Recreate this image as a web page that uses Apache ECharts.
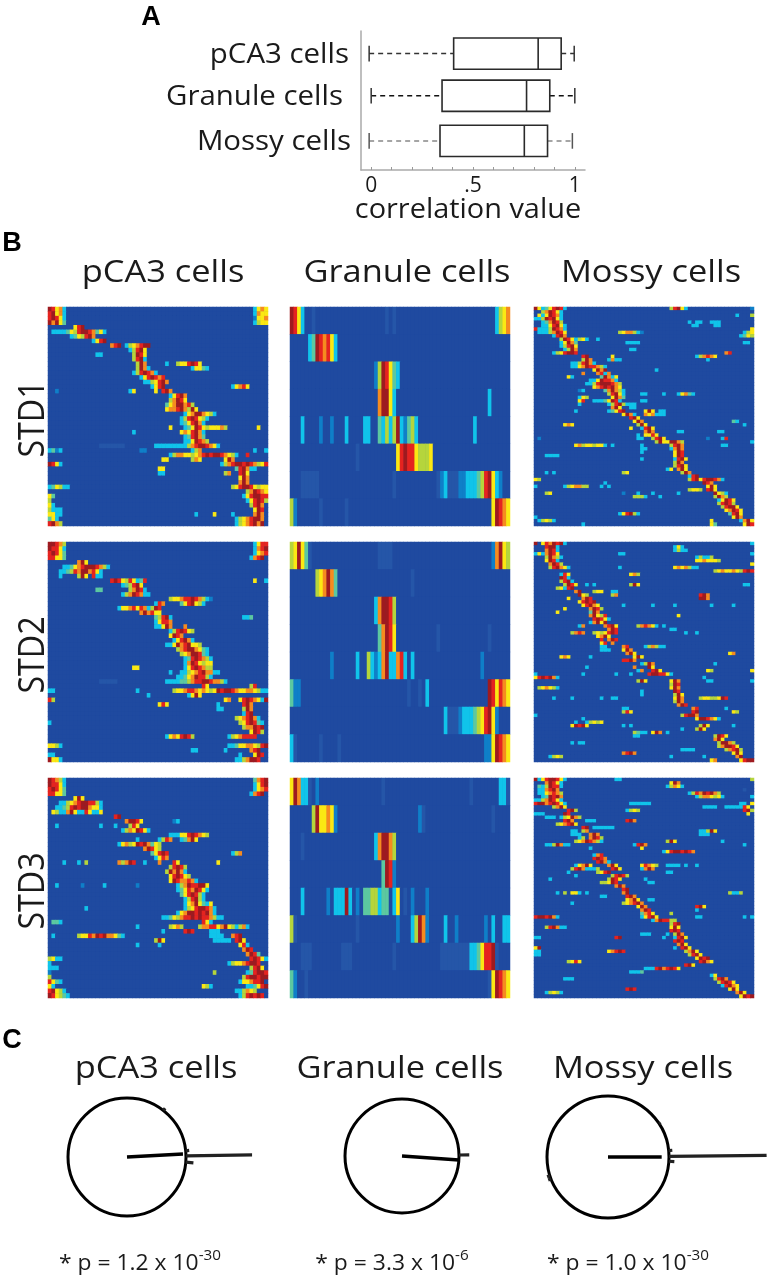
<!DOCTYPE html>
<html><head><meta charset="utf-8">
<style>html,body{margin:0;padding:0;background:#fff}#c{width:770px;height:1277px;filter:blur(0.7px)}</style>
<script src="https://cdn.jsdelivr.net/npm/echarts@6/dist/echarts.min.js"></script>
</head><body><div id="c"></div>
<script>
// ---------- Panel A: correlation box plots ----------
const cellTypes = ['pCA3 cells', 'Granule cells', 'Mossy cells'];
const boxRowPos = [0.52, 1.49, 2.53];
const boxLow = [-0.01, 0.0, -0.01];
const boxQ1 = [0.405, 0.348, 0.338];
const boxMedian = [0.82, 0.763, 0.752];
const boxQ3 = [0.933, 0.877, 0.866];
const boxHigh = [0.997, 1.0, 0.988];
const xTickValues = [0, 0.1, 0.2, 0.3, 0.4, 0.5, 0.6, 0.7, 0.8, 0.9, 1];
const xLabelValues = [0, 0.5, 1];
const xLabelTexts = ['0', '.5', '1'];
const stdLabels = ['STD1', 'STD2', 'STD3'];

// ---------- Panel B: heat maps. Each entry = row:column:cell levels (0-9) ----------
const pca3Std1 = ["0:0:98673","0:56:3676","1:0:89673","1:56:3766","2:0:89863","2:56:2667","3:0:97964","3:56:3566","4:7:689","5:1:333346589987463","6:6:3465897","7:12:3689","8:17:789","8:21:3567899","9:22:35896","10:13:33","10:23:5986","11:23:5893","12:24:597","12:32:3","12:35:5668986","13:24:5973","13:39:36643","14:23:3589873","15:25:3689878","16:26:3356897","17:28:3689","17:50:36786","18:2:2","18:22:36","18:29:6","18:31:897","19:33:36897","20:33:57986","21:32:46799785","22:32:677897596","23:37:367997653","24:36:35898653","25:36:3468973","26:33:6","26:37:346986566675","26:57:6","27:23:3","27:36:6768973","28:37:348974","29:37:3369875","30:14:1111111","30:29:33333333357899876 3","31:0:3423","31:25:22","31:39:357","31:56:3","31:59:3","32:33:3577665678989987653","32:54:8","33:31:66","33:39:576","33:48:697","34:0:9863","34:47:35789989875689","35:30:66","35:51:489733","36:30:33","36:48:57","36:52:896","37:52:697","38:52:797","39:0:346533","39:50:5689986566","40:54:5798764","41:0:64","41:53:3689988","42:0:5","42:54:368985","43:0:63","43:55:5897","44:0:5333","44:56:698","45:0:6633","45:40:3","45:45:6","45:50:3","45:56:797","46:0:463","46:51:35678997","47:0:8975","47:51:35678979"];
const pca3Std2 = ["0:0:99875","0:56:3688","1:0:98863","1:56:3789","2:0:89864","2:56:3678","3:0:88664","3:55:3789","4:8:796","5:4:3346789998753","6:3:334587997863","7:3:3","7:8:596","7:12:833","8:17:8986586348","8:56:6","8:59:3","9:20:345896","10:13:44","10:22:57983","11:20:35798733","12:33:566788987532","13:29:387","13:36:4689653","14:19:366786873598","15:25:797866","16:29:45893","16:53:334","17:29:36887","18:29:33697","18:37:7","19:33:3589865","20:33:6987","21:34:368973","22:32:3369789665","23:35:578997643","24:36:56799843","25:37:34898753","26:37:37986566","27:23:66","27:37:36898755","28:33:3","28:36:33567897733","29:35:3346798853","30:14:11111","30:32:33334457889987753","31:42:86","31:55:58","32:0:33","32:24:3","32:34:56678876765698998766776533","33:27:3","33:38:3696","34:0:85","34:48:67","34:52:68987635","34:59:9","35:30:686","35:46:3","35:53:897","36:46:33","36:53:597","37:53:389","38:51:5678973","39:0:3","39:52:5689843","40:53:577989","41:55:6985","42:32:36768985","42:49:35678888","44:0:6653","44:49:3346677658","44:59:9","45:39:33","45:48:3","45:55:789","46:0:33","46:52:3","46:56:698","47:0:9663","47:51:3357998"];
const pca3Std3 = ["0:0:98753","0:56:4789","1:0:98863","1:56:3689","2:0:89864","2:56:3678","3:0:88664","3:55:3789","4:7:696","5:3:335678998853","6:2:3345898997663","7:1:65337963386336","8:18:89","9:21:79986","9:34:23","10:2:3","10:14:3","10:18:3","10:22:586","11:20:35769863","12:33:33366898765","13:24:3","13:30:3587","13:36:34796","14:19:367569897465","15:26:79865","16:28:46898","16:50:357","17:29:3687","18:4:3","18:8:3","18:10:5","18:19:75798","18:26:3","18:30:7","18:34:86","18:46:6","19:33:58985","20:32:597973","21:33:689865","22:33:69877873","23:2:3","23:9:2","23:15:3","23:24:2","23:35:357988996","24:35:346879863","25:36:4689853","26:37:358953","27:37:36796436","28:10:3","28:37:35689987 3","29:35:36799898973","30:31:33465788989887533","31:1:443","31:42:863","32:24:3","32:33:5675","32:41:5778867965357","32:54:3","33:31:3","33:37:898","33:44:333","34:1:3","34:8:5668798977643","34:44:3333","34:50:789","35:29:596","35:45:33333","35:51:896","36:24:3","36:30:3","36:52:683","37:53:798","38:54:7984","39:0:5633","39:55:89863","40:0:3","40:49:356678998","41:0:333","41:55:5896","42:0:2","42:45:5","42:54:34899865","43:0:5","43:53:58998997","44:0:8643","44:52:3667889","45:0:63","45:42:653","45:54:334689","46:0:89653","46:51:335765","47:0:986543","47:52:3589898"];
const granuleStd1 = ["0:0:9863","0:6:1","0:26:1","0:28:1","0:56:3567","1:5:34987863","2:23:2","2:24:598643","3:24:79963","3:54:3","4:3:3","4:8:2","4:11:2","4:15:3","4:20:33","4:24:43535","4:29:932","4:32:453","4:50:3","5:18:1","5:29:6898865556","6:3:11111","6:28:1","6:40:123111223334589632","7:0:52","7:8:1","7:15:1","7:55:69876"];
const granuleStd2 = ["0:0:569641","0:24:1111","0:55:2","0:56:7965","1:7:567974","1:33:1","2:23:37998","2:28:5","3:24:47986","3:40:1","3:54:1","4:11:2","4:18:3","4:21:532343","4:25:793","4:28:3","4:29:783","4:33:3","4:52:2","5:0:422","5:32:1","5:35:1","5:37:3","5:54:986876","6:42:3111233345689 62","7:0:31","7:8:1","7:13:1","7:53:2269876"];
const granuleStd3 = ["0:0:69733","0:5:1","0:7:2","0:25:1","0:49:1","0:57:331","1:6:5966762","1:35:21","1:55:1","2:3:1","2:23:379975","3:25:4982","4:3:3","4:10:2","4:12:33","4:14:3","4:15:93","4:18:2","4:20:44553 44","4:28:3","4:29:6","4:31:1","4:33:2","4:37:2","5:0:51","5:18:1","5:29:2","5:33:359 72","5:42:3","5:45:2","5:53:2","5:55:3","5:58:33","6:3:111","6:14:111","6:28:1","6:41:111111112","6:49:33468892","6:56:1","7:0:42","7:4:1","7:54:169876"];
const mossyStd1 = ["0:0:963468983","0:37:58963","0:59:2","1:2:579863","2:1:6369873","2:55:3","2:59:5","3:0:33598963","4:2:347985","4:42:3","4:44:33","4:48:333","5:2:3368963","5:43:33","5:49:33","6:0:8333598 73","6:59:6","7:1:33357986","7:23:5677532","7:57:356","8:5:3897","8:56:3465","9:7:59863563","9:17:3","10:7:36974","10:25:3333","10:57:33","11:7:35896","12:8:3597","12:26:33","13:5:3568998","13:52:78","14:13:89","14:21:6","14:44:357876","15:13:597","15:20:3733","15:47:3","16:10:3358973","17:10:3367988753","18:16:6979","18:33:3","19:13:7","19:17:7837","20:9:63","20:18:49736","21:15:33698873","22:14:3358999875","23:16:67898976","24:12:23","24:19:479753","25:20:58963","25:29:33","25:35:3","25:39:36743","26:12:365","26:21:6974","27:12:68","27:16:33346983","27:29:33","28:12:3","28:20:35895","28:25:333","29:21:796","29:26:33","30:11:3","30:20:34689","30:30:696","30:34:33","31:24:6973","31:30:767","31:33:333","32:26:896","33:27:697","33:54:43","34:8:676","34:28:596","34:57:3","35:26:6","35:29:3896","36:30:797","36:39:33","36:50:33","37:28:3","37:30:6686","38:1:2","38:28:33","38:32:5896","38:47:2","38:51:38","39:33:596","39:36:69975","39:59:3","40:11:675665663","40:21:3","40:29:3","40:37:5897","40:51:33","41:29:33","41:37:3797","42:29:3","42:38:698","43:3:3333","43:38:698","44:29:3","44:38:3896","45:38:597","46:38:5896","47:36:36","47:39:796","48:3:3","48:5:3","48:24:56","48:40:597","49:42:389","50:0:65","50:42:5896899873","51:19:3","51:46:987","52:0:3","52:8:3567755","52:18:3","52:20:3","52:47:696","53:42:5665","53:47:896","54:3:56","54:24:2","54:28:3","54:32:3","54:39:3","54:49:9653","55:27:555","55:30:3","55:34:3","55:49:5975","56:50:36986","57:50:58985","58:51:58996","59:52:67986","60:23:36895 3","60:53:4896","61:0:3","61:54:697","62:1:35653","62:48:6","62:56:3796","63:13:3","63:48:64","63:57:698"];
const mossyStd2 = ["0:0:9","0:2:6879893","0:59:3","1:3:8993","1:38:363","2:3:7983","2:38:3533","3:0:3637986","3:23:33","3:59:3","4:3:59753","4:44:35335","5:3:6983","5:44:6676665","6:4:7985","6:59:6","7:4:589763","7:23:3","7:38:6767533","8:49:567667658987","9:7:386","9:26:675","10:7:983","11:7:5893","12:8:5986","12:14:3","12:16:3","12:26:596","12:57:33","13:6:56389","14:11:79","14:16:566","14:21:33","15:12:965","15:21:57","15:45:897","16:9:6","16:13:798","16:45:997","17:12:68989","18:13:68976","18:24:3","18:32:3","18:38:3","18:48:3","18:54:3","19:8:6","19:15:7985","20:6:6","20:15:497","21:15:79658","21:39:6","22:16:89863","23:15:37969","24:12:37","24:19:7896","24:28:578763","24:35:3","25:20:798","25:37:33","26:10:5787","26:16:5656898","26:41:3","26:44:3","27:17:6796","28:18:8","28:20:798","29:18:68","29:21:7","30:18:33","30:24:78","30:30:357533","31:18:333","31:24:697","32:25:796","32:53:67","33:7:676","33:15:3","33:27:696","34:24:8897","35:29:3","35:30:597","35:49:3","36:14:3","36:27:7","36:31:96","37:28:37","37:32:896","37:47:65","37:59:6","38:0:3","38:13:3","38:22:3","38:26:3","38:31:8998863","39:0:6898973","39:46:3","40:28:596","40:37:697","40:47:33","40:59:3","41:37:598","42:1:567653","42:37:697","43:29:3","43:38:98","44:29:3","44:38:596","45:5:3","45:10:3","45:18:3","45:21:33","45:38:697","45:45:56655698","46:38:597","47:39:798","48:24:33","48:43:78","48:52:3","49:24:586","49:43:89","49:54:65","50:0:3","50:40:58997","51:13:3","51:44:699 8763","52:11:3","52:14:35656","53:10:69896","53:24:3","53:26:3","53:45:596","53:54:3","54:40:3","54:44:596","55:27:543","55:30:3","55:32:697","55:36:3","56:27:33","56:49:5986","57:49:796","58:10:3","58:12:33","58:50:59975","59:50:579986","60:40:3333","60:52:57895","61:24:7897","61:54:696","62:4:3565","62:37:3","62:46:3","62:55:79","63:48:67","63:56:6899"];
const mossyStd3 = ["0:0:936899863","0:22:33","0:59:5","1:3:79863","1:37:697","2:1:4359883","2:36:35763","3:1:337897","3:57:1","4:1:3367875","4:42:358798975","5:2:349897","5:44:35776563","5:59:3","6:0:33579863","7:0:899789863","7:26:333333","7:56:33","7:59:6","8:5:5796","8:46:3333","8:52:3333","8:56:386","9:9:895","9:25:3565","9:57:895","10:0:333","10:8:98","10:58:6","11:3:333","11:7:356975","12:8:897","12:14:333","12:25:897","13:6:567896","14:13:89","14:16:333333","15:10:33","15:13:57","15:45:33596","16:10:333","16:15:797","16:45:333","17:12:35","17:15:7985","18:11:56798753","18:36:596","18:51:3","19:3:3359733","19:27:3897","19:57:3","20:15:3","20:29:6","21:36:68998987","21:35:3","22:16:3","22:17:78","23:16:8987","24:17:8973","25:11:36796","25:20:796","25:29:68765","25:36:3333","25:41:3","25:44:3","26:10:58973335","26:21:896","26:29:3797","27:9:3","27:17:5689","27:36:33","28:11:3","28:21:58985","29:4:3","29:20:5986","29:30:3","30:18:55698","30:31:33","31:22:797","32:24:89","33:6:3","33:8:5","33:10:663","33:14:3","33:24:79","33:53:5335","34:18:33","34:25:897","35:25:6796","35:31:33","36:10:3","36:24:567897","37:28:697","37:44:896","38:29:798","38:44:3","39:29:4786","39:37:5","40:0:8998973","40:29:36896","40:44:33","40:57:3","40:59:3","41:32:3798875","41:37:5","42:37:589","43:3:589733","43:37:696","44:37:898","45:29:333","45:36:3","45:38:597","46:0:33","46:22:89","46:35:3","46:38:3896","47:38:898","48:39:796","49:0:69","49:38:3","49:40:896","50:0:33","50:20:67898","50:41:5796","51:0:33","51:42:5896","52:44:6989","53:9:5686","53:45:897","53:48:6","54:41:896","55:30:3338978986","56:26:3334","57:48:36","58:8:333","58:49:5897","59:50:58986","60:51:38976","61:25:898","61:53:696","62:3:35653","62:55:796","63:56:6989"];
const heatLevels = 9;

// ---------- Panel C: circular distributions: [radius, angle in degrees] ----------
const pca3Mean = [[0, 3], [0.95, 3]];
const granuleMean = [[0, 356], [1.0, 356]];
const mossyMean = [[0, 0], [0.88, 0]];
const pca3Spikes = [[2.12, 1], [1.06, 6], [1.13, 355], [1.05, 52]];
const granuleSpikes = [[1.18, 1]];
const mossySpikes = [[2.6, 0.6], [1.06, 6], [1.09, 356], [1.03, 33], [1.05, 201], [1.05, 198]];
const pValueMantissa = ['1.2', '3.3', '1.0'];
const pValueExponent = ['-30', '-6', '-30'];

// ---------- Layout and style ----------
const FONT = '"Open Sans","Noto Sans",sans-serif';
const INK = '#1a1a1a';
const heatPalette = ['#1f4aa0', '#2556a8', '#0f7fc8', '#10c4ea', '#5cc8a0', '#b5d53c', '#fbe813', '#f68b1f', '#e5231f', '#9e1a1f'];
const colX = [48, 290, 534];
const rowY = [307, 542, 778];
const panelW = [220, 220, 220];
const panelH = [219, 220, 220];
const heatSets = [
  [pca3Std1, granuleStd1, mossyStd1],
  [pca3Std2, granuleStd2, mossyStd2],
  [pca3Std3, granuleStd3, mossyStd3]
];
const heatRows = [48, 8, 64];
const heatCols = 60;
const whiskerColor = ['#333', '#111', '#888'];
const polarCenters = [[127, 1157], [402, 1156], [608, 1157]];
const polarRadii = [59, 57, 61];

function expand(segments, rows, cols) {
  const m = Array.from({length: rows}, () => new Array(cols).fill(0));
  segments.forEach(s => {
    const [r, c, v] = s.split(':');
    const d = v.replace(/\s/g, '');
    for (let i = 0; i < d.length; i++) {
      const col = +c + i;
      if (+r < rows && col < cols) m[+r][col] = +d[i];
    }
  });
  const out = [];
  m.forEach((row, y) => row.forEach((val, x) => out.push([x, y, val])));
  return out;
}
const range = n => Array.from({length: n}, (_, i) => i);

const grid = [{left: 361, top: 31, width: 224, height: 139}];
const xAxis = [{
  type: 'value', gridIndex: 0, min: -0.05, max: 1.05, position: 'bottom',
  axisLine: {show: true, onZero: false, lineStyle: {color: '#aaa', width: 1.5}},
  axisTick: {show: true, inside: true, length: 3, customValues: xTickValues, lineStyle: {color: '#999'}},
  axisLabel: {show: true, customValues: xLabelValues, margin: 6, color: INK, fontFamily: FONT, fontSize: 21,
    formatter: v => xLabelTexts[xLabelValues.indexOf(v)]},
  splitLine: {show: false}
}];
const yAxis = [{
  type: 'value', gridIndex: 0, inverse: true, min: 0, max: 3.2, position: 'left',
  axisLine: {show: true, onZero: false, lineStyle: {color: '#aaa', width: 1.5}},
  axisTick: {show: false}, axisLabel: {show: false}, splitLine: {show: false}
}];
const series = [{
  type: 'custom', xAxisIndex: 0, yAxisIndex: 0,
  encode: {x: [1, 2, 3, 4, 5], y: 0},
  data: boxRowPos.map((p, i) => [p, boxLow[i], boxQ1[i], boxMedian[i], boxQ3[i], boxHigh[i], i]),
  renderItem: (params, api) => {
    const y = api.value(0), c = k => api.coord([api.value(k), y]);
    const [lo, q1, me, q3, hi] = [1, 2, 3, 4, 5].map(c);
    const h = api.size([0, 0.72])[1], cap = api.size([0, 0.36])[1];
    const col = whiskerColor[api.value(6)];
    const ln = (x1, y1, x2, y2, st) => ({type: 'line', shape: {x1, y1, x2, y2}, style: st});
    const box = {stroke: '#2a2a2a', lineWidth: 1.6, fill: 'none'};
    const dash = {stroke: col, lineWidth: 1.5, lineDash: [5, 4], fill: 'none'};
    const s = {stroke: col === '#888' ? '#555' : '#333', lineWidth: 1.5};
    return {type: 'group', children: [
      ln(lo[0], lo[1], q1[0], q1[1], dash), ln(q3[0], q3[1], hi[0], hi[1], dash),
      ln(lo[0], lo[1] - cap / 2, lo[0], lo[1] + cap / 2, s), ln(hi[0], hi[1] - cap / 2, hi[0], hi[1] + cap / 2, s),
      {type: 'rect', shape: {x: q1[0], y: q1[1] - h / 2, width: q3[0] - q1[0], height: h}, style: box},
      ln(me[0], me[1] - h / 2, me[0], me[1] + h / 2, box)
    ]};
  }
}];

heatSets.forEach((rowSets, r) => rowSets.forEach((segs, c) => {
  const g = grid.length;
  grid.push({left: colX[c], top: rowY[r], width: panelW[c], height: panelH[r], show: true, backgroundColor: heatPalette[0], borderWidth: 0});
  const off = {show: false};
  xAxis.push({type: 'category', gridIndex: g, data: range(heatCols), axisLine: off, axisTick: off, axisLabel: off, splitLine: off, splitArea: off});
  yAxis.push({type: 'category', gridIndex: g, inverse: true, data: range(heatRows[c]), axisLine: off, axisTick: off, axisLabel: off, splitLine: off, splitArea: off});
  series.push({type: 'heatmap', xAxisIndex: g, yAxisIndex: g, data: expand(segs, heatRows[c], heatCols), silent: true, progressive: 0, animation: false});
}));
const heatIdx = range(9).map(i => i + 1);

const polar = polarCenters.map((center, i) => ({center, radius: polarRadii[i]}));
const angleAxis = polarCenters.map((_, i) => ({
  polarIndex: i, type: 'value', min: 0, max: 360, startAngle: 0, clockwise: false,
  axisLine: {show: true, lineStyle: {color: '#000', width: 3}},
  axisTick: {show: false}, axisLabel: {show: false}, splitLine: {show: false}, splitArea: {show: false}
}));
const radiusAxis = polarCenters.map((_, i) => ({
  polarIndex: i, type: 'value', min: 0, max: 1,
  axisLine: {show: false}, axisTick: {show: false}, axisLabel: {show: false}, splitLine: {show: false}, splitArea: {show: false}
}));
[[pca3Mean, pca3Spikes], [granuleMean, granuleSpikes], [mossyMean, mossySpikes]].forEach(([mean, spikes], i) => {
  series.push({type: 'line', coordinateSystem: 'polar', polarIndex: i, data: mean, clip: false, symbol: 'none', animation: false,
    lineStyle: {color: '#000', width: 3.5}});
  series.push({type: 'custom', coordinateSystem: 'polar', polarIndex: i, data: spikes, animation: false, clip: false,
    encode: {radius: 0, angle: 1},
    renderItem: (params, api) => {
      const rad = api.value(0), a = api.value(1);
      const p1 = api.coord([1, a]), p2 = api.coord([rad, a]);
      return {type: 'line', shape: {x1: p1[0], y1: p1[1], x2: p2[0], y2: p2[1]}, style: {stroke: '#222', lineWidth: 3.2, fill: 'none'}};
    }});
});

// text placed by its baseline
const txt = (text, x, base, size, extra, sx) => ({type: 'text', x, y: base - 0.24 * size, scaleX: sx || 1, silent: true, style: Object.assign({
  text, fill: INK, fontFamily: FONT, fontSize: size, align: 'center', verticalAlign: 'middle'}, extra || {})});
const bold = {fontFamily: '"Liberation Sans",Arial,sans-serif', fontWeight: 'bold', fill: '#000'};
const rightAl = {align: 'right'};
const graphic = [
  txt('A', 151, 24, 27, bold), txt('B', 12, 250, 27, bold), txt('C', 12, 1047, 27, bold),
  txt('correlation value', 468, 217, 27, null, 1.07),
  txt(cellTypes[0], 349, 62, 27, rightAl, 1.09), txt(cellTypes[1], 343, 104, 27, rightAl, 1.09), txt(cellTypes[2], 351, 149, 27, rightAl, 1.09),
  txt(cellTypes[0], 163, 281, 31, null, 1.11), txt(cellTypes[1], 407, 281, 31, null, 1.11), txt(cellTypes[2], 651, 281, 31, null, 1.11),
  txt(cellTypes[0], 156, 1077, 31, null, 1.11), txt(cellTypes[1], 400, 1077, 31, null, 1.11), txt(cellTypes[2], 643, 1077, 31, null, 1.11)
];
[419, 655, 891].forEach((y, i) => {
  const t = txt(stdLabels[i], 42 - 0.24 * 37, 0, 37, null, 0.87);
  t.y = y;
  t.rotation = Math.PI / 2;
  graphic.push(t);
});
[140, 392, 628].forEach((x, i) => graphic.push({type: 'text', x, y: 1262, scaleX: 1.09, silent: true, style: {
  text: '{a|* p = ' + pValueMantissa[i] + ' x 10}{b|' + pValueExponent[i] + '}',
  align: 'center', verticalAlign: 'middle',
  rich: {a: {fontFamily: FONT, fontSize: 21, fill: INK, lineHeight: 26, verticalAlign: 'bottom'},
         b: {fontFamily: FONT, fontSize: 14, fill: INK, lineHeight: 26, verticalAlign: 'top', padding: [0, 0, 8, 0]}}
}}));

const chart = echarts.init(document.getElementById('c'), null, {renderer: 'canvas'});
chart.setOption({
  animation: false, backgroundColor: '#fff',
  grid, xAxis, yAxis, series, polar, angleAxis, radiusAxis, graphic,
  visualMap: {show: false, type: 'continuous', min: 0, max: heatLevels, dimension: 2, seriesIndex: heatIdx, inRange: {color: heatPalette}}
});
</script></body></html>
